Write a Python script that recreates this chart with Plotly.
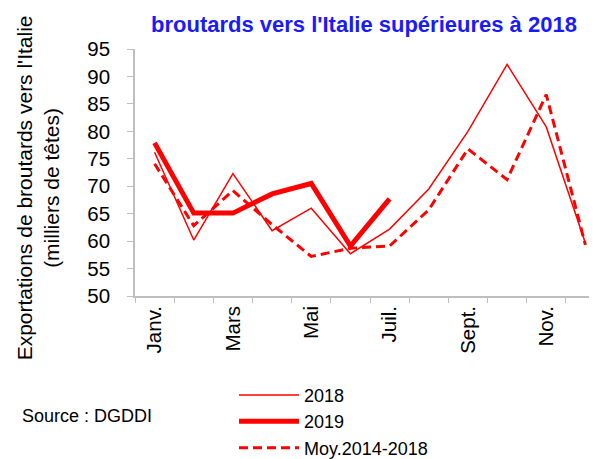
import plotly.graph_objects as go

months = ["Janv.", "Févr.", "Mars", "Avr.", "Mai", "Juin", "Juil.", "Août", "Sept.", "Oct.", "Nov.", "Déc."]
tick_labels = ["Janv.", "", "Mars", "", "Mai", "", "Juil.", "", "Sept.", "", "Nov.", ""]

y2018 = [76.2, 60.2, 72.3, 61.9, 66.0, 57.7, 62.2, 69.5, 80.0, 92.2, 80.8, 59.6]
y2019 = [77.9, 65.1, 65.1, 68.6, 70.5, 59.1, 67.7]
ymoy = [74.1, 62.8, 69.2, 63.0, 57.2, 58.7, 59.1, 65.7, 76.8, 71.2, 86.7, 59.3]

RED = "#FF0000"
FONT = "Liberation Sans, Arial, sans-serif"

fig = go.Figure()
fig.add_trace(go.Scatter(x=months, y=y2018, mode="lines", name="2018",
                         line=dict(color=RED, width=1.5)))
fig.add_trace(go.Scatter(x=months[:len(y2019)], y=y2019, mode="lines", name="2019",
                         line=dict(color=RED, width=5)))
fig.add_trace(go.Scatter(x=months, y=ymoy, mode="lines", name="Moy.2014-2018",
                         line=dict(color=RED, width=3, dash="9px,5px")))

W, H = 597, 459
L, R, T, B = 127, 0, 41, 161
pw = W - L - R
ph = H - T - B

def px_x(x):
    return (x - L) / pw

def px_y(y):
    return (H - B - y) / ph

fig.update_layout(
    width=W, height=H,
    margin=dict(l=L, r=R, t=T, b=B),
    paper_bgcolor="white", plot_bgcolor="white",
    font=dict(family=FONT, size=18, color="black"),
    showlegend=True,
    legend=dict(x=px_x(226), y=px_y(382), xanchor="left", yanchor="top",
                font=dict(size=18), bgcolor="rgba(0,0,0,0)",
                tracegroupgap=0, itemwidth=60),
    xaxis=dict(
        type="category", tickmode="array", tickvals=months, ticktext=tick_labels,
        tickson="boundaries", ticks="outside", ticklen=5, tickcolor="#BFBFBF",
        showline=True, linecolor="#BFBFBF", linewidth=1.5, showgrid=False,
        tickangle=-90, tickfont=dict(size=20.5), zeroline=False,
        range=[-0.5, 11.5],
    ),
    yaxis=dict(
        range=[50, 95], tickmode="linear", tick0=50, dtick=5,
        ticks="outside", ticklen=6, tickcolor="#BFBFBF",
        showline=True, linecolor="#BFBFBF", linewidth=1.5, showgrid=False,
        zeroline=False, tickfont=dict(size=20.5), ticklabelstandoff=13,
    ),
    annotations=[
        dict(text="Exportations de broutards vers l'Italie<br>(milliers de têtes)",
             x=px_x(30), y=px_y(186), xref="paper", yref="paper",
             xanchor="center", yanchor="middle", textangle=-90, showarrow=False,
             font=dict(size=21)),
        dict(text="Source : DGDDI", x=px_x(12), y=px_y(423), xref="paper", yref="paper",
             xanchor="left", yanchor="middle", showarrow=False, font=dict(size=18)),
        dict(text="<b>broutards vers l'Italie supérieures à 2018</b>",
             x=px_x(356), y=px_y(0), xref="paper", yref="paper",
             xanchor="center", yanchor="top", showarrow=False,
             font=dict(size=22, color="#1A1AFF")),
    ],
)

fig.write_html("out.html")
